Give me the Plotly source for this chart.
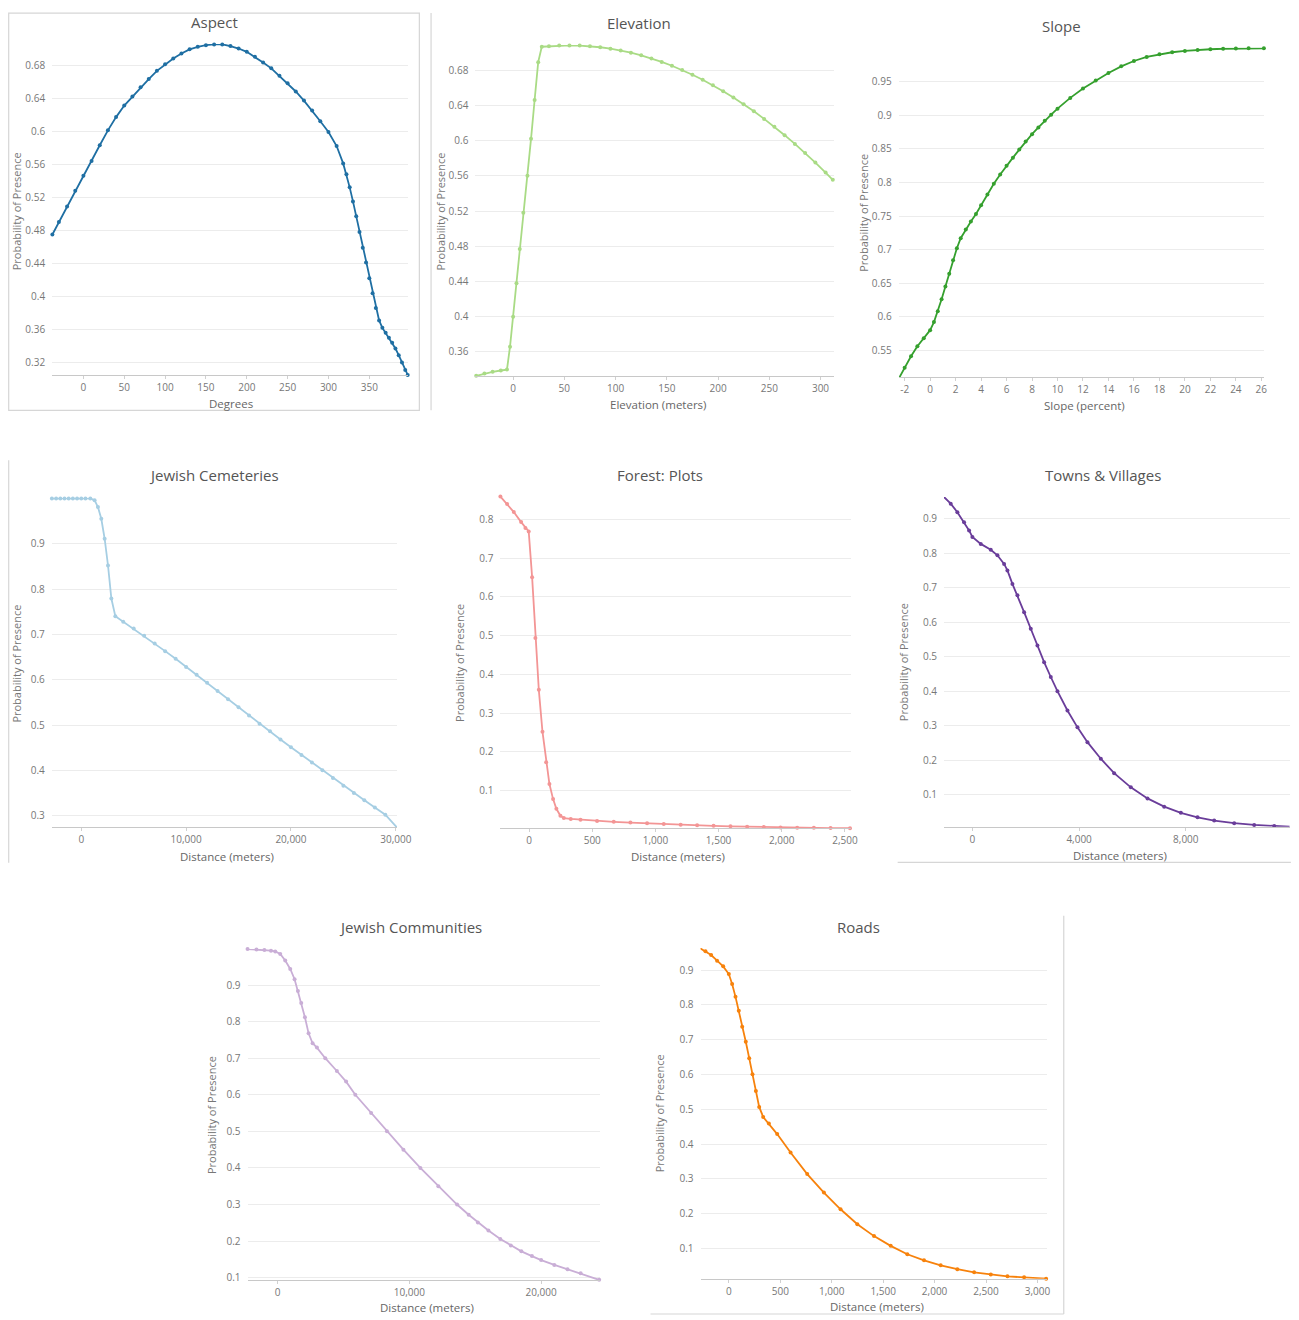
import plotly.graph_objects as go

# ---------------- DATA ----------------
aspect_x = [-38, -30, -20, -10, 0, 10, 20, 30, 40, 50, 60, 70, 80, 90, 100, 110, 120, 130, 140, 150,
            160, 170, 180, 190, 200, 210, 220, 230, 240, 250, 260, 270, 280, 290, 300, 310, 318, 322,
            326, 330, 334, 338, 342, 346, 350, 354, 358, 362, 366, 370, 374, 378, 382, 386, 390, 394, 397]
aspect_y = [0.475, 0.490, 0.509, 0.528, 0.546, 0.564, 0.583, 0.601, 0.617, 0.631, 0.642, 0.653, 0.663,
            0.673, 0.681, 0.688, 0.694, 0.699, 0.702, 0.704, 0.705, 0.705, 0.703, 0.700, 0.696, 0.690,
            0.683, 0.676, 0.667, 0.658, 0.648, 0.637, 0.625, 0.612, 0.599, 0.582, 0.561, 0.548, 0.532,
            0.515, 0.497, 0.478, 0.459, 0.441, 0.422, 0.404, 0.386, 0.371, 0.362, 0.356, 0.350, 0.344,
            0.337, 0.329, 0.320, 0.311, 0.305]

elev_x = [-36, -28, -20, -12, -6, -3, 0, 3.3, 6.5, 10, 14, 17.5, 21, 24.5, 28, 35, 45, 55, 65, 75, 85,
          95, 105, 115, 125, 135, 145, 155, 165, 175, 185, 195, 205, 215, 225, 235, 245, 255, 265, 275,
          285, 295, 305, 312]
elev_y = [0.333, 0.3355, 0.3375, 0.339, 0.340, 0.366, 0.400, 0.438, 0.477, 0.518, 0.560, 0.602, 0.646,
          0.689, 0.7065, 0.7071, 0.7078, 0.708, 0.7078, 0.7071, 0.7059, 0.7043, 0.7022, 0.6997, 0.6967,
          0.6932, 0.6893, 0.6849, 0.6800, 0.6747, 0.6690, 0.6627, 0.6560, 0.6489, 0.6412, 0.6332,
          0.6246, 0.6156, 0.6061, 0.5962, 0.5858, 0.5750, 0.5636, 0.5554]

slope_x = [-2.4, -2.0, -1.5, -1.0, -0.5, 0, 0.3, 0.6, 0.9, 1.2, 1.5, 1.8, 2.1, 2.4, 2.8, 3.2, 3.6, 4.0,
           4.5, 5.0, 5.5, 6.0, 6.5, 7.0, 7.5, 8.0, 8.5, 9.0, 9.5, 10, 11, 12, 13, 14, 15, 16, 17, 18, 19,
           20, 21, 22, 23, 24, 25, 26.2]
slope_y = [0.510, 0.524, 0.541, 0.556, 0.568, 0.580, 0.592, 0.608, 0.626, 0.645, 0.664, 0.684, 0.702,
           0.717, 0.730, 0.742, 0.753, 0.766, 0.782, 0.798, 0.812, 0.825, 0.837, 0.849, 0.861, 0.872,
           0.882, 0.892, 0.901, 0.910, 0.926, 0.940, 0.952, 0.963, 0.973, 0.981, 0.987, 0.991, 0.994,
           0.996, 0.9975, 0.9985, 0.9992, 0.9997, 1.0, 1.0]

cem_x = [-2800, -2400, -2000, -1600, -1200, -800, -400, 0, 400, 860, 1270, 1590, 1910, 2230, 2550, 2870,
         3250, 4000, 5000, 6000, 7000, 8000, 9000, 10000, 11000, 12000, 13000, 14000, 15000, 16000,
         17000, 18000, 19000, 20000, 21000, 22000, 23000, 24000, 25000, 26000, 27000, 28000, 29000, 30100]
cem_y = [1.0, 1.0, 1.0, 1.0, 1.0, 1.0, 1.0, 1.0, 1.0, 1.0, 0.996, 0.981, 0.955, 0.911, 0.852, 0.779,
         0.740, 0.728, 0.713, 0.697, 0.680, 0.663, 0.646, 0.628, 0.611, 0.593, 0.575, 0.557, 0.539,
         0.521, 0.503, 0.486, 0.468, 0.451, 0.434, 0.417, 0.400, 0.383, 0.366, 0.350, 0.334, 0.318,
         0.302, 0.274]

forest_x = [-227, -174, -121, -63, -29, -3, 24, 50, 77, 106, 135, 161, 190, 216, 248, 275, 330, 407, 538,
            670, 802, 934, 1066, 1200, 1330, 1460, 1594, 1726, 1858, 1990, 2122, 2254, 2386, 2540]
forest_y = [0.859, 0.840, 0.819, 0.793, 0.778, 0.769, 0.651, 0.494, 0.360, 0.252, 0.173, 0.117, 0.078,
            0.053, 0.035, 0.029, 0.027, 0.025, 0.0215, 0.0195, 0.0175, 0.0155, 0.0135, 0.012, 0.0105,
            0.009, 0.0078, 0.0068, 0.006, 0.005, 0.0043, 0.0038, 0.0033, 0.0028]

towns_x = [-1063, -813, -563, -313, -125, 0, 313, 688, 938, 1188, 1313, 1500, 1688, 1938, 2188, 2438,
           2688, 2938, 3188, 3563, 3938, 4313, 4813, 5313, 5938, 6563, 7188, 7813, 8438, 9063, 9813,
           10563, 11313, 11888]
towns_y = [0.963, 0.9435, 0.919, 0.890, 0.866, 0.847, 0.827, 0.810, 0.794, 0.769, 0.750, 0.711, 0.678,
           0.629, 0.581, 0.532, 0.484, 0.441, 0.400, 0.344, 0.295, 0.252, 0.204, 0.162, 0.121, 0.089,
           0.065, 0.047, 0.034, 0.0246, 0.017, 0.012, 0.009, 0.007]

comm_x = [-2278, -1600, -1000, -500, -177, 203, 582, 962, 1291, 1544, 1797, 2076, 2354, 2658, 2987,
          3620, 4500, 5200, 5900, 7100, 8300, 9550, 10835, 12200, 13620, 14500, 15200, 16000, 16900,
          17700, 18500, 19300, 20000, 21000, 22000, 23000, 24405]
comm_y = [0.9985, 0.997, 0.996, 0.994, 0.992, 0.985, 0.967, 0.944, 0.916, 0.884, 0.851, 0.812, 0.768,
          0.741, 0.729, 0.700, 0.665, 0.636, 0.600, 0.550, 0.500, 0.450, 0.400, 0.350, 0.300, 0.272,
          0.251, 0.229, 0.206, 0.188, 0.172, 0.159, 0.148, 0.135, 0.123, 0.112, 0.094]

roads_x = [-282, -227, -172, -114, -55, 0, 32, 65, 97, 130, 165, 198, 230, 263, 295, 334, 389, 470, 600,
           762, 924, 1086, 1249, 1411, 1573, 1735, 1897, 2059, 2221, 2384, 2546, 2708, 2870, 3084]
roads_y = [0.963, 0.954, 0.943, 0.927, 0.9105, 0.8885, 0.860, 0.823, 0.783, 0.737, 0.694, 0.647, 0.601,
           0.553, 0.507, 0.478, 0.459, 0.429, 0.376, 0.314, 0.261, 0.213, 0.170, 0.136, 0.108, 0.084,
           0.0665, 0.052, 0.041, 0.032, 0.026, 0.0205, 0.0176, 0.0138]

titles = ["Aspect", "Elevation", "Slope", "Jewish Cemeteries", "Forest: Plots", "Towns & Villages",
          "Jewish Communities", "Roads"]
x_titles = ["Degrees", "Elevation (meters)", "Slope (percent)", "Distance (meters)", "Distance (meters)",
            "Distance (meters)", "Distance (meters)", "Distance (meters)"]
y_title = "Probability of Presence"

aspect_xticks = [0, 50, 100, 150, 200, 250, 300, 350]
elev_xticks = [0, 50, 100, 150, 200, 250, 300]
slope_xticks = [-2, 0, 2, 4, 6, 8, 10, 12, 14, 16, 18, 20, 22, 24, 26]
cem_xticks = [0, 10000, 20000, 30000]
forest_xticks = [0, 500, 1000, 1500, 2000, 2500]
towns_xticks = [0, 4000, 8000]
comm_xticks = [0, 10000, 20000]
roads_xticks = [0, 500, 1000, 1500, 2000, 2500, 3000]

aspect_yticks = [0.32, 0.36, 0.4, 0.44, 0.48, 0.52, 0.56, 0.6, 0.64, 0.68]
elev_yticks = [0.36, 0.4, 0.44, 0.48, 0.52, 0.56, 0.6, 0.64, 0.68]
slope_yticks = [0.55, 0.6, 0.65, 0.7, 0.75, 0.8, 0.85, 0.9, 0.95]
cem_yticks = [0.3, 0.4, 0.5, 0.6, 0.7, 0.8, 0.9]
dist_yticks = [0.1, 0.2, 0.3, 0.4, 0.5, 0.6, 0.7, 0.8, 0.9]
forest_yticks = [0.1, 0.2, 0.3, 0.4, 0.5, 0.6, 0.7, 0.8]

colors = ["#1f6fa3", "#a9db85", "#35a02e", "#a6cee3", "#f39595", "#6a3d9a", "#c9aed6", "#f7820c"]

# ---------------- LAYOUT ----------------
OFF = 8
SX = 1315 / 1299          # page-to-capture compensation (horizontal)
SY = 1325 / 1320          # page-to-capture compensation (vertical)
FW, FH = 1299, 1317

def PX(px):
    return (px * SX - OFF) / FW

def PY(py):
    return 1 - min(py * SY - OFF, FH - 0.5) / FH

series = [(aspect_x, aspect_y), (elev_x, elev_y), (slope_x, slope_y), (cem_x, cem_y),
          (forest_x, forest_y), (towns_x, towns_y), (comm_x, comm_y), (roads_x, roads_y)]
xticks = [aspect_xticks, elev_xticks, slope_xticks, cem_xticks, forest_xticks, towns_xticks,
          comm_xticks, roads_xticks]
yticks = [aspect_yticks, elev_yticks, slope_yticks, cem_yticks, forest_yticks, dist_yticks,
          dist_yticks, dist_yticks]

boxes = [(52, 408, 44, 375), (475, 833, 45, 376), (898, 1263, 47.7, 376.7),
         (51.7, 396.7, 497.7, 826.7), (500, 850, 496, 827.7), (943.3, 1289.3, 496.7, 826),
         (247.3, 599.3, 948.3, 1279.3), (700, 1046, 947.3, 1277.7)]
xranges = [(-38.3, 397.8), (-36.8, 312.8), (-2.47, 26.2), (-2808, 30116), (-227, 2545),
           (-1065, 11912), (-2278, 24449), (-275, 3090)]
yranges = [(0.3046, 0.7054), (0.3324, 0.7084), (0.5102, 1.0007), (0.2742, 1.0007), (0.0026, 0.8594),
           (0.0071, 0.9627), (0.0929, 0.9985), (0.0138, 0.9632)]
title_pos = [(214, 22), (639, 23), (1061, 26), (214, 475), (659, 475), (1102, 475), (410, 926), (858, 926)]
xtitle_pos = [(231, 403), (657, 404), (1084, 405), (227, 856), (677, 856), (1119, 855), (427, 1307), (876, 1306)]
ytitle_pos = [(16, 211), (440, 211), (863, 213), (16, 663), (459, 662), (903, 662), (212, 1114), (659, 1113)]

FONT = "Open Sans"

fig = go.Figure()
annotations = []
for i, ((xs, ys), box) in enumerate(zip(series, boxes)):
    n = "" if i == 0 else str(i + 1)
    x0, x1, yt, yb = box
    fig.add_trace(go.Scatter(
        x=xs, y=ys, mode="lines+markers", xaxis="x" + n, yaxis="y" + n,
        line=dict(color=colors[i], width=1.8), marker=dict(color=colors[i], size=4),
        cliponaxis=False, showlegend=False, hoverinfo="x+y"))
    fmt = (lambda v: f"{v:,}") if i >= 3 else (lambda v: str(v))
    fig.layout["xaxis" + n] = dict(
        domain=[PX(x0), PX(x1)], range=list(xranges[i]), anchor="y" + n,
        tickvals=xticks[i], ticktext=[fmt(v) for v in xticks[i]],
        showgrid=False, zeroline=False, showline=True, linecolor="#c8c8c8", linewidth=1,
        ticks="outside", ticklen=3, tickcolor="#d0d0d0",
        tickfont=dict(family=FONT, size=10, color="#777777"), fixedrange=True)
    fig.layout["yaxis" + n] = dict(
        domain=[PY(yb), PY(yt)], range=list(yranges[i]), anchor="x" + n,
        tickvals=yticks[i], ticktext=[str(v) for v in yticks[i]],
        showgrid=True, gridcolor="#ececec", gridwidth=1, zeroline=False, showline=False,
        ticks="", ticklabelstandoff=6,
        tickfont=dict(family=FONT, size=10, color="#777777"), fixedrange=True)
    tx, ty = title_pos[i]
    annotations.append(dict(text=titles[i], x=PX(tx), y=PY(ty), xref="paper", yref="paper",
                            showarrow=False, xanchor="center", yanchor="middle",
                            font=dict(family=FONT, size=15, color="#555555")))
    ax_, ay_ = xtitle_pos[i]
    annotations.append(dict(text=x_titles[i], x=PX(ax_), y=PY(ay_), xref="paper", yref="paper",
                            showarrow=False, xanchor="center", yanchor="middle",
                            font=dict(family=FONT, size=11.5, color="#666666")))
    bx, by = ytitle_pos[i]
    annotations.append(dict(text=y_title, x=PX(bx), y=PY(by), xref="paper", yref="paper",
                            showarrow=False, xanchor="center", yanchor="middle", textangle=-90,
                            font=dict(family=FONT, size=11, color="#777777")))

border = "#d6d6d6"
def pline(xa, ya, xb, yb):
    return dict(type="line", xref="paper", yref="paper", x0=PX(xa), x1=PX(xb),
                y0=PY(ya), y1=PY(yb), line=dict(color=border, width=1.2))

shapes = [
    dict(type="rect", xref="paper", yref="paper", x0=PX(8.6), x1=PX(419), y0=PY(410), y1=PY(13),
         line=dict(color=border, width=1.2)),
    pline(430.7, 13, 430.7, 410),
    pline(8.6, 460, 8.6, 862),
    pline(897, 861.7, 1290, 861.7),
    pline(1063, 915, 1063, 1313),
    pline(650, 1313, 1063, 1313),
]

fig.update_layout(width=FW, height=FH, margin=dict(l=0, r=0, t=0, b=0),
                  paper_bgcolor="white", plot_bgcolor="white",
                  annotations=annotations, shapes=shapes, showlegend=False)

fig.write_html("out.html", config={"displayModeBar": False})
